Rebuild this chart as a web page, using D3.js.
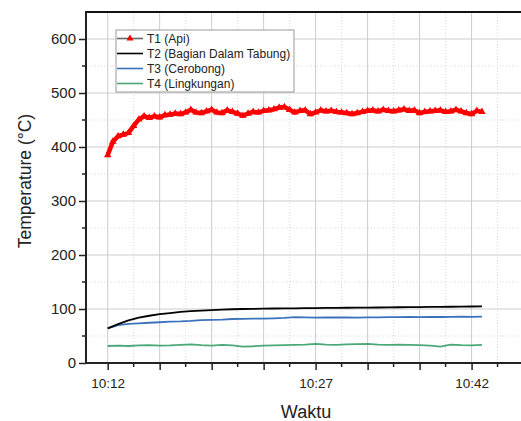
<!DOCTYPE html>
<html>
<head>
<meta charset="utf-8">
<script src="https://cdn.jsdelivr.net/npm/d3@7"></script>
<style>
  body { margin: 0; background: #fff; }
  text { font-family: "Liberation Sans", Arial, sans-serif; fill: #222; }
</style>
</head>
<body>
<div id="container"></div>
<script>
// data (x in tick units, 1 unit = one major x tick)
const tickLabels = ["10:12", "", "", "", "10:27", "", "", "10:42"];
const seriesNames = ["T1 (Api)", "T2 (Bagian Dalam Tabung)", "T3 (Cerobong)", "T4 (Lingkungan)"];
const seriesColors = ["#ff0000", "#000000", "#3a72bd", "#4aa878"];

// T1 sampled every 0.1 unit
const t1 = [385, 410, 420, 423, 426, 439, 451, 457, 454, 457,
            455, 459, 460, 462, 461, 464, 469, 464, 463, 466,
            469, 464, 463, 468, 465, 462, 458, 462, 465, 464,
            467, 468, 470, 473, 474, 469, 464, 467, 468, 461,
            464, 468, 466, 467, 465, 464, 463, 461, 463, 465,
            467, 468, 466, 469, 467, 466, 468, 470, 467, 468,
            463, 465, 466, 467, 468, 465, 466, 469, 466, 463,
            461, 467, 465];

// T2..T4 sampled every 0.2 unit
const t2 = [64, 72, 79, 84, 87.5, 90.5, 92.5, 94.5, 96, 97,
            98, 99, 99.5, 100, 100.3, 100.6, 100.9, 101.1, 101.3, 101.5,
            101.8, 102, 102.1, 102.3, 102.4, 102.6, 102.8, 103, 103.2, 103.4,
            103.6, 103.8, 104, 104.2, 104.4, 104.6, 104.8];
const t3 = [64, 70, 72.5, 73.5, 74.5, 75.5, 76.5, 77, 78, 79.5,
            80, 80.5, 81.5, 81.8, 82, 82.3, 82.8, 83.5, 84.8, 84.5,
            84.2, 84.6, 84.3, 84.5, 83.9, 84.4, 84.6, 84.8, 85, 85.3,
            85.1, 85.4, 85.2, 85.5, 85.7, 85.4, 85.8];
const t4 = [31.5, 32, 31.5, 32.5, 33, 32, 32.5, 33.5, 34.5, 33,
            32, 33.5, 32.5, 30.5, 31, 32, 32.5, 33, 33.5, 34,
            35.5, 34, 33.5, 34.5, 35, 35.5, 34, 33.5, 34, 33.5,
            33, 32, 30.5, 34, 33, 32.5, 33.5];

const W = 521, H = 421;
const svg = d3.select("#container").append("svg").attr("width", W).attr("height", H);

const x = d3.scaleLinear().domain([-0.417, 7.97]).range([86, 522]);
const y = d3.scaleLinear().domain([0, 650]).range([363, 12]);

// grid
const grid = svg.append("g");
grid.selectAll("line.xmin").data(d3.range(0.5, 8, 1)).enter().append("line")
    .attr("x1", d => x(d)).attr("x2", d => x(d)).attr("y1", y(0)).attr("y2", y(650))
    .attr("stroke", "#d9d9d9").attr("stroke-dasharray", "1,2");
grid.selectAll("line.ymin").data(d3.range(50, 650, 100)).enter().append("line")
    .attr("y1", d => y(d)).attr("y2", d => y(d)).attr("x1", 86).attr("x2", W)
    .attr("stroke", "#d9d9d9").attr("stroke-dasharray", "1,2");
grid.selectAll("line.xmaj").data(d3.range(0, 8)).enter().append("line")
    .attr("x1", d => x(d)).attr("x2", d => x(d)).attr("y1", y(0)).attr("y2", y(650))
    .attr("stroke", "#cccccc").attr("stroke-width", 1);
grid.selectAll("line.ymaj").data(d3.range(100, 700, 100)).enter().append("line")
    .attr("y1", d => y(d)).attr("y2", d => y(d)).attr("x1", 86).attr("x2", W)
    .attr("stroke", "#cccccc").attr("stroke-width", 1);

// lines
const line = d3.line().x(d => x(d[0])).y(d => y(d[1]));
const d1 = t1.map((v, i) => [i * 0.1, v]);
const others = [t2, t3, t4].map(s => s.map((v, i) => [i * 0.2, v]));

others.slice().reverse().forEach((s, k) => {
    svg.append("path").datum(s).attr("d", line)
        .attr("fill", "none").attr("stroke", seriesColors[3 - k]).attr("stroke-width", 1.8);
});

svg.append("path").datum(d1).attr("d", line)
    .attr("fill", "none").attr("stroke", seriesColors[0]).attr("stroke-width", 4.5)
    .attr("stroke-linejoin", "round");
const tri = d3.symbol().type(d3.symbolTriangle).size(24);
svg.selectAll("path.m1").data(d1).enter().append("path")
    .attr("d", tri).attr("fill", seriesColors[0])
    .attr("transform", d => `translate(${x(d[0])},${y(d[1])})`);

// axes
const yAxis = svg.append("g").attr("transform", "translate(86,0)")
    .call(d3.axisLeft(y).tickValues(d3.range(0, 700, 100)).tickSize(7).tickPadding(3));
yAxis.select(".domain").remove();
yAxis.selectAll("text").attr("font-size", 15).attr("fill", "#222");
yAxis.selectAll("line").attr("stroke", "#222").attr("stroke-width", 1.5);
svg.append("g").selectAll("line").data(d3.range(50, 650, 100)).enter().append("line")
    .attr("x1", 82).attr("x2", 86).attr("y1", d => y(d)).attr("y2", d => y(d))
    .attr("stroke", "#222").attr("stroke-width", 1.5);

const xAxis = svg.append("g").attr("transform", `translate(0,${y(0)})`)
    .call(d3.axisBottom(x).tickValues(d3.range(0, 8)).tickSize(7).tickPadding(8)
        .tickFormat((d, i) => tickLabels[i]));
xAxis.select(".domain").remove();
xAxis.selectAll("text").attr("font-size", 13.5).attr("fill", "#222");
xAxis.selectAll("line").attr("stroke", "#222").attr("stroke-width", 1.5);
svg.append("g").selectAll("line").data(d3.range(0.5, 8, 1)).enter().append("line")
    .attr("x1", d => x(d)).attr("x2", d => x(d)).attr("y1", y(0)).attr("y2", y(0) + 4)
    .attr("stroke", "#222").attr("stroke-width", 1.5);

// frame
svg.append("line").attr("x1", 85).attr("x2", W).attr("y1", y(0)).attr("y2", y(0))
    .attr("stroke", "#222").attr("stroke-width", 1.8);
svg.append("line").attr("x1", 85).attr("x2", W).attr("y1", 12).attr("y2", 12)
    .attr("stroke", "#111").attr("stroke-width", 2);
svg.append("line").attr("x1", 86).attr("x2", 86).attr("y1", 11).attr("y2", y(0) + 1)
    .attr("stroke", "#222").attr("stroke-width", 2);

// titles
svg.append("text").attr("x", 306).attr("y", 418).attr("text-anchor", "middle")
    .attr("font-size", 18).text("Waktu");
svg.append("text").attr("transform", "translate(31,181) rotate(-90)")
    .attr("text-anchor", "middle").attr("font-size", 17.5).text("Temperature (°C)");

// legend
const leg = svg.append("g");
leg.append("rect").attr("x", 116).attr("y", 30).attr("width", 178).attr("height", 62)
    .attr("fill", "#fff").attr("stroke", "#999").attr("stroke-width", 1);
seriesNames.forEach((name, i) => {
    const cy = 38.5 + i * 15;
    leg.append("line").attr("x1", 117).attr("x2", 143).attr("y1", cy).attr("y2", cy)
        .attr("stroke", i === 0 ? "#666" : seriesColors[i]).attr("stroke-width", 1.6);
    if (i === 0) {
        leg.append("path").attr("d", d3.symbol().type(d3.symbolTriangle).size(22))
            .attr("fill", seriesColors[0]).attr("transform", `translate(130,${cy})`);
    }
    leg.append("text").attr("x", 147).attr("y", cy + 4.3).attr("font-size", 12).text(name);
});
</script>
</body>
</html>
